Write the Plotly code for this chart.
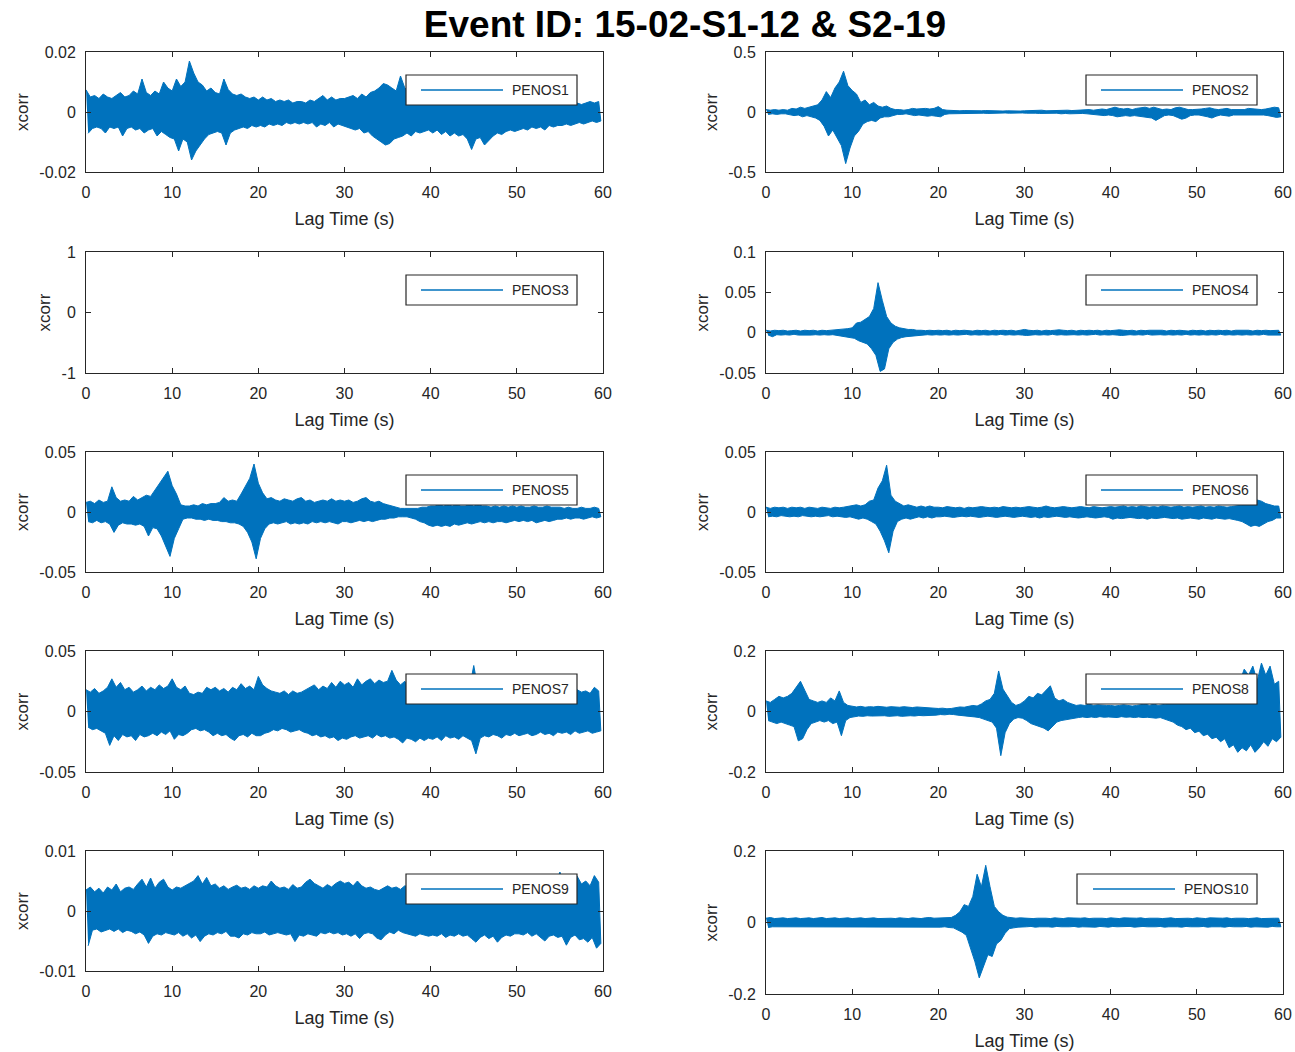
import plotly.graph_objects as go

# ---------------- data ----------------
# Each trace is stored as a pair of envelopes sampled every 0.5 s:
#   *_UP = local maximum in the half-second starting at LAG_TIME_S[k]
#   *_LO = local minimum in the same half-second (drawn a quarter second later)
LAG_TIME_S = [k * 0.5 for k in range(120)]

NAMES = ["PENOS1", "PENOS2", "PENOS3", "PENOS4", "PENOS5",
         "PENOS6", "PENOS7", "PENOS8", "PENOS9", "PENOS10"]

PENOS1_UP = [
    0.0074, 0.005, 0.0055, 0.0045, 0.006, 0.005, 0.0045, 0.0055, 0.0065, 0.005,
    0.0055, 0.007, 0.006, 0.011, 0.0065, 0.0055, 0.007, 0.006, 0.01, 0.008,
    0.007, 0.011, 0.0085, 0.01, 0.017, 0.013, 0.01, 0.009, 0.007, 0.008,
    0.0065, 0.006, 0.011, 0.0075, 0.006, 0.0055, 0.006, 0.005, 0.0045, 0.005,
    0.004, 0.005, 0.004, 0.0045, 0.0035, 0.004, 0.0035, 0.004, 0.003, 0.0035,
    0.0035, 0.003, 0.004, 0.0035, 0.0045, 0.0055, 0.004, 0.005, 0.004, 0.0045,
    0.0045, 0.005, 0.0055, 0.0045, 0.006, 0.005, 0.0065, 0.007, 0.008, 0.0095,
    0.009, 0.008, 0.007, 0.012, 0.008, 0.007, 0.0075, 0.0065, 0.007, 0.006,
    0.0065, 0.006, 0.007, 0.006, 0.0065, 0.007, 0.006, 0.0065, 0.007, 0.006,
    0.0065, 0.007, 0.006, 0.0065, 0.0055, 0.006, 0.005, 0.0055, 0.005, 0.0045,
    0.005, 0.0045, 0.004, 0.005, 0.0045, 0.004, 0.0045, 0.004, 0.0045, 0.004,
    0.0035, 0.003, 0.0035, 0.003, 0.003, 0.0025, 0.003, 0.0035, 0.003, 0.0035]
PENOS1_LO = [
    -0.0071, -0.0055, -0.005, -0.0055, -0.007, -0.005, -0.0055, -0.005, -0.008, -0.0055,
    -0.005, -0.006, -0.0055, -0.007, -0.006, -0.0055, -0.008, -0.0065, -0.0075, -0.0085,
    -0.009, -0.013, -0.009, -0.01, -0.016, -0.013, -0.011, -0.009, -0.0075, -0.007,
    -0.0065, -0.007, -0.011, -0.007, -0.006, -0.0055, -0.005, -0.0055, -0.0045, -0.005,
    -0.0045, -0.005, -0.004, -0.0045, -0.004, -0.0045, -0.0035, -0.004, -0.0035, -0.004,
    -0.0035, -0.004, -0.0035, -0.005, -0.004, -0.0045, -0.0035, -0.005, -0.004, -0.0045,
    -0.005, -0.0055, -0.006, -0.0055, -0.007, -0.0065, -0.008, -0.009, -0.01, -0.011,
    -0.0105, -0.009, -0.0085, -0.008, -0.007, -0.008, -0.0065, -0.007, -0.0065, -0.006,
    -0.007, -0.006, -0.0075, -0.0065, -0.008, -0.007, -0.008, -0.0075, -0.009, -0.0125,
    -0.009, -0.0085, -0.011, -0.0095, -0.008, -0.007, -0.0075, -0.0065, -0.006, -0.0065,
    -0.006, -0.0055, -0.006, -0.005, -0.0055, -0.005, -0.006, -0.0045, -0.005, -0.0045,
    -0.0045, -0.004, -0.0045, -0.004, -0.0035, -0.004, -0.0035, -0.003, -0.0035, -0.003]

PENOS2_UP = [
    0.02, 0.015, 0.02, 0.015, 0.02, 0.015, 0.03, 0.025, 0.04, 0.03,
    0.04, 0.05, 0.06, 0.1, 0.17, 0.12, 0.2, 0.25, 0.34, 0.22,
    0.18, 0.15, 0.08, 0.1, 0.06, 0.08, 0.05, 0.04, 0.05, 0.03,
    0.02, 0.02, 0.015, 0.02, 0.03, 0.025, 0.03, 0.03, 0.025, 0.03,
    0.045, 0.02, 0.015, 0.012, 0.015, 0.01, 0.012, 0.01, 0.012, 0.01,
    0.01, 0.012, 0.01, 0.008, 0.01, 0.008, 0.01, 0.008, 0.01, 0.008,
    0.01, 0.012, 0.01, 0.012, 0.015, 0.01, 0.012, 0.01, 0.015, 0.012,
    0.015, 0.012, 0.015, 0.012, 0.015, 0.02, 0.015, 0.02, 0.025, 0.02,
    0.03, 0.04, 0.03, 0.025, 0.03, 0.02, 0.03, 0.035, 0.04, 0.03,
    0.04, 0.03, 0.02, 0.025, 0.02, 0.035, 0.04, 0.03, 0.02, 0.02,
    0.02, 0.025, 0.03, 0.035, 0.025, 0.02, 0.025, 0.03, 0.02, 0.02,
    0.025, 0.02, 0.03, 0.025, 0.02, 0.02, 0.025, 0.03, 0.04, 0.035]
PENOS2_LO = [
    -0.02, -0.015, -0.02, -0.015, -0.015, -0.02, -0.03, -0.025, -0.04, -0.03,
    -0.04, -0.05, -0.07, -0.12, -0.2, -0.15, -0.22, -0.28, -0.43, -0.3,
    -0.2, -0.16, -0.1, -0.08, -0.07, -0.08, -0.05, -0.04, -0.04, -0.03,
    -0.02, -0.02, -0.015, -0.02, -0.03, -0.025, -0.03, -0.035, -0.03, -0.035,
    -0.04, -0.02, -0.015, -0.012, -0.015, -0.01, -0.012, -0.01, -0.012, -0.01,
    -0.01, -0.012, -0.01, -0.008, -0.01, -0.008, -0.01, -0.008, -0.01, -0.008,
    -0.01, -0.012, -0.01, -0.012, -0.015, -0.01, -0.012, -0.01, -0.015, -0.012,
    -0.015, -0.012, -0.015, -0.012, -0.015, -0.02, -0.02, -0.025, -0.03, -0.025,
    -0.03, -0.04, -0.035, -0.03, -0.035, -0.03, -0.035, -0.04, -0.045, -0.05,
    -0.07, -0.05, -0.03, -0.025, -0.03, -0.045, -0.06, -0.05, -0.03, -0.025,
    -0.025, -0.03, -0.04, -0.05, -0.035, -0.025, -0.03, -0.035, -0.025, -0.025,
    -0.03, -0.025, -0.03, -0.03, -0.025, -0.025, -0.03, -0.035, -0.045, -0.04]

# PENOS3 has no samples in the reference (empty axes)
PENOS3_UP = []
PENOS3_LO = []

PENOS4_UP = [
    0.003, 0.002, 0.003, 0.0025, 0.003, 0.002, 0.0025, 0.003, 0.002, 0.003,
    0.0025, 0.003, 0.002, 0.003, 0.0025, 0.003, 0.003, 0.004, 0.004, 0.005,
    0.006, 0.012, 0.013, 0.016, 0.02, 0.03, 0.062, 0.04, 0.02, 0.012,
    0.008, 0.006, 0.005, 0.004, 0.004, 0.003, 0.003, 0.0025, 0.003, 0.0025,
    0.003, 0.0025, 0.003, 0.002, 0.003, 0.0025, 0.003, 0.0025, 0.002, 0.003,
    0.0025, 0.003, 0.002, 0.003, 0.0025, 0.003, 0.0025, 0.003, 0.002, 0.003,
    0.004, 0.003, 0.0025, 0.003, 0.002, 0.003, 0.0025, 0.003, 0.0035, 0.003,
    0.0025, 0.003, 0.002, 0.003, 0.0025, 0.003, 0.0025, 0.003, 0.002, 0.003,
    0.0025, 0.003, 0.0035, 0.003, 0.0025, 0.003, 0.002, 0.003, 0.0025, 0.003,
    0.003, 0.0025, 0.003, 0.002, 0.003, 0.0025, 0.003, 0.0025, 0.002, 0.003,
    0.0025, 0.003, 0.002, 0.003, 0.0025, 0.003, 0.0025, 0.003, 0.002, 0.003,
    0.003, 0.0025, 0.003, 0.002, 0.003, 0.0025, 0.003, 0.0025, 0.003, 0.003]
PENOS4_LO = [
    -0.003, -0.005, -0.0025, -0.003, -0.0025, -0.003, -0.002, -0.003, -0.0025, -0.003,
    -0.003, -0.0025, -0.003, -0.0025, -0.003, -0.0025, -0.003, -0.004, -0.005, -0.006,
    -0.007, -0.01, -0.012, -0.014, -0.02, -0.028, -0.048, -0.045, -0.02, -0.012,
    -0.008, -0.006, -0.005, -0.004, -0.004, -0.003, -0.003, -0.0025, -0.003, -0.0025,
    -0.003, -0.0025, -0.003, -0.0025, -0.003, -0.0025, -0.002, -0.003, -0.0025, -0.003,
    -0.0025, -0.003, -0.0025, -0.003, -0.002, -0.003, -0.0025, -0.003, -0.0025, -0.003,
    -0.0035, -0.003, -0.0025, -0.003, -0.0025, -0.003, -0.002, -0.003, -0.0025, -0.003,
    -0.003, -0.0025, -0.003, -0.0025, -0.003, -0.0025, -0.002, -0.003, -0.0025, -0.003,
    -0.0025, -0.003, -0.0035, -0.003, -0.0025, -0.003, -0.0025, -0.003, -0.002, -0.003,
    -0.003, -0.0025, -0.003, -0.0025, -0.003, -0.0025, -0.003, -0.002, -0.003, -0.0025,
    -0.003, -0.0025, -0.003, -0.0025, -0.003, -0.002, -0.003, -0.0025, -0.003, -0.0025,
    -0.003, -0.0025, -0.003, -0.0025, -0.003, -0.002, -0.003, -0.0025, -0.003, -0.003]

PENOS5_UP = [
    0.008, 0.009, 0.007, 0.01, 0.008, 0.009, 0.021, 0.012, 0.009, 0.01,
    0.009, 0.013, 0.01, 0.012, 0.014, 0.013, 0.018, 0.024, 0.028, 0.034,
    0.022, 0.015, 0.006, 0.005, 0.005, 0.006, 0.005, 0.007, 0.006, 0.007,
    0.007, 0.008, 0.012, 0.009, 0.01, 0.009, 0.015, 0.021, 0.028, 0.04,
    0.024, 0.016, 0.011, 0.012, 0.01, 0.009, 0.011, 0.01, 0.009, 0.011,
    0.012, 0.009, 0.01, 0.008, 0.009, 0.01, 0.009, 0.011, 0.009, 0.01,
    0.009, 0.01, 0.008, 0.009, 0.011, 0.012, 0.009, 0.008, 0.009, 0.007,
    0.006, 0.005, 0.004, 0.003, 0.003, 0.003, 0.0035, 0.003, 0.004, 0.004,
    0.005, 0.005, 0.006, 0.005, 0.006, 0.005, 0.006, 0.005, 0.005, 0.006,
    0.005, 0.006, 0.005, 0.005, 0.004, 0.005, 0.004, 0.005, 0.004, 0.005,
    0.004, 0.005, 0.004, 0.004, 0.005, 0.004, 0.004, 0.005, 0.004, 0.004,
    0.004, 0.003, 0.004, 0.003, 0.003, 0.004, 0.003, 0.003, 0.004, 0.003]
PENOS5_LO = [
    -0.008, -0.009, -0.007, -0.009, -0.008, -0.01, -0.017, -0.011, -0.009, -0.01,
    -0.01, -0.011, -0.01, -0.012, -0.02, -0.013, -0.014, -0.02, -0.028, -0.037,
    -0.022, -0.014, -0.006, -0.005, -0.005, -0.006, -0.006, -0.007, -0.006, -0.007,
    -0.007, -0.008, -0.008, -0.009, -0.009, -0.01, -0.012, -0.017, -0.025, -0.039,
    -0.022, -0.014, -0.01, -0.009, -0.01, -0.009, -0.008, -0.01, -0.009, -0.01,
    -0.009, -0.01, -0.008, -0.009, -0.008, -0.009, -0.008, -0.009, -0.01, -0.008,
    -0.008, -0.009, -0.008, -0.007, -0.008, -0.007, -0.008, -0.007, -0.006, -0.006,
    -0.005, -0.005, -0.004, -0.004, -0.004, -0.005, -0.006, -0.008, -0.009, -0.011,
    -0.012, -0.011, -0.012, -0.011, -0.012, -0.01, -0.011, -0.01, -0.009, -0.01,
    -0.009, -0.008, -0.009, -0.008, -0.009, -0.008, -0.008, -0.009, -0.008, -0.007,
    -0.008, -0.007, -0.008, -0.007, -0.009, -0.008, -0.007, -0.008, -0.007, -0.006,
    -0.006, -0.005, -0.006, -0.005, -0.005, -0.006, -0.005, -0.004, -0.005, -0.004]

PENOS6_UP = [
    0.004, 0.003, 0.004, 0.0035, 0.004, 0.003, 0.004, 0.0035, 0.004, 0.003,
    0.004, 0.0035, 0.003, 0.004, 0.0035, 0.003, 0.004, 0.0035, 0.004, 0.0045,
    0.005, 0.006, 0.005, 0.006, 0.009, 0.01, 0.02, 0.026, 0.039, 0.014,
    0.009, 0.007, 0.005, 0.006, 0.005, 0.004, 0.005, 0.004, 0.005, 0.004,
    0.004, 0.0035, 0.0045, 0.004, 0.0035, 0.004, 0.003, 0.004, 0.0035, 0.004,
    0.0045, 0.004, 0.0035, 0.004, 0.0035, 0.0045, 0.004, 0.0035, 0.004, 0.0035,
    0.004, 0.0045, 0.004, 0.0035, 0.004, 0.005, 0.004, 0.0035, 0.004, 0.0045,
    0.004, 0.0035, 0.004, 0.0045, 0.004, 0.0035, 0.0045, 0.004, 0.0035, 0.004,
    0.0045, 0.004, 0.0045, 0.005, 0.004, 0.0045, 0.004, 0.005, 0.0045, 0.004,
    0.0045, 0.004, 0.005, 0.0045, 0.004, 0.0045, 0.005, 0.004, 0.0045, 0.004,
    0.0045, 0.005, 0.004, 0.0045, 0.004, 0.005, 0.0045, 0.004, 0.0045, 0.005,
    0.005, 0.006, 0.007, 0.008, 0.01, 0.009, 0.007, 0.006, 0.005, 0.005]
PENOS6_LO = [
    -0.004, -0.0035, -0.004, -0.003, -0.0035, -0.004, -0.0035, -0.004, -0.003, -0.0035,
    -0.004, -0.0035, -0.004, -0.0035, -0.003, -0.004, -0.0035, -0.004, -0.0045, -0.004,
    -0.005, -0.006, -0.005, -0.006, -0.008, -0.01, -0.016, -0.024, -0.034, -0.016,
    -0.008, -0.006, -0.005, -0.006, -0.005, -0.004, -0.005, -0.004, -0.005, -0.004,
    -0.004, -0.0035, -0.004, -0.0045, -0.004, -0.0035, -0.004, -0.0035, -0.004, -0.0045,
    -0.004, -0.0035, -0.004, -0.0045, -0.004, -0.0035, -0.004, -0.0045, -0.004, -0.0035,
    -0.004, -0.0045, -0.004, -0.005, -0.004, -0.0045, -0.004, -0.0035, -0.004, -0.0045,
    -0.004, -0.0045, -0.005, -0.0045, -0.004, -0.0045, -0.005, -0.0045, -0.004, -0.0045,
    -0.006, -0.005, -0.0055, -0.005, -0.0045, -0.005, -0.0055, -0.005, -0.006, -0.005,
    -0.0055, -0.005, -0.0045, -0.005, -0.0055, -0.005, -0.006, -0.0055, -0.005, -0.0055,
    -0.006, -0.005, -0.0055, -0.006, -0.005, -0.0055, -0.006, -0.0055, -0.006, -0.007,
    -0.008, -0.01, -0.012, -0.011, -0.012, -0.01, -0.008, -0.007, -0.005, -0.005]

PENOS7_UP = [
    0.018, 0.016, 0.019, 0.015, 0.017, 0.02, 0.027, 0.02, 0.024, 0.018,
    0.02, 0.016, 0.018, 0.021, 0.017, 0.02, 0.018, 0.022, 0.019, 0.021,
    0.027, 0.02, 0.018, 0.021, 0.015, 0.014, 0.016, 0.015, 0.02, 0.018,
    0.02, 0.017, 0.019, 0.016, 0.02, 0.018, 0.023, 0.019, 0.021, 0.018,
    0.029, 0.022, 0.019, 0.017, 0.016, 0.015, 0.017, 0.014, 0.017, 0.015,
    0.016, 0.018, 0.02, 0.022, 0.018, 0.021, 0.019, 0.024, 0.02, 0.025,
    0.022, 0.024, 0.02, 0.027, 0.022, 0.025, 0.027, 0.023, 0.026, 0.024,
    0.025, 0.034, 0.026, 0.022, 0.025, 0.02, 0.022, 0.019, 0.02, 0.018,
    0.02, 0.018, 0.019, 0.017, 0.02, 0.018, 0.019, 0.017, 0.02, 0.019,
    0.038, 0.018, 0.017, 0.019, 0.016, 0.018, 0.017, 0.015, 0.016, 0.017,
    0.016, 0.015, 0.017, 0.016, 0.015, 0.017, 0.016, 0.015, 0.016, 0.017,
    0.015, 0.016, 0.017, 0.015, 0.018, 0.016, 0.017, 0.015, 0.02, 0.017]
PENOS7_LO = [
    -0.013, -0.015, -0.014, -0.016, -0.018, -0.028, -0.02, -0.024, -0.019, -0.021,
    -0.02, -0.024, -0.019, -0.021, -0.02, -0.018, -0.02, -0.017, -0.019, -0.016,
    -0.023, -0.019, -0.02, -0.018, -0.015, -0.014, -0.016, -0.015, -0.017, -0.02,
    -0.018, -0.02, -0.019, -0.022, -0.024, -0.02, -0.019, -0.021, -0.018, -0.02,
    -0.02, -0.018, -0.017, -0.015, -0.016, -0.014, -0.015, -0.017, -0.016, -0.015,
    -0.017, -0.018, -0.02, -0.019, -0.021, -0.02, -0.022, -0.021, -0.024, -0.022,
    -0.023, -0.021, -0.02, -0.022, -0.021, -0.02, -0.022, -0.019, -0.021, -0.02,
    -0.022, -0.021, -0.023, -0.026, -0.022, -0.023, -0.025, -0.022, -0.024, -0.022,
    -0.023, -0.021, -0.024, -0.02, -0.022, -0.021, -0.023, -0.02, -0.022, -0.024,
    -0.035, -0.022, -0.02, -0.021, -0.019, -0.02, -0.022, -0.019, -0.02, -0.018,
    -0.02, -0.019, -0.018, -0.02, -0.019, -0.017, -0.019, -0.018, -0.02, -0.017,
    -0.018, -0.017, -0.019, -0.016, -0.018, -0.017, -0.016, -0.018, -0.017, -0.016]

PENOS8_UP = [
    0.035, 0.03, 0.04, 0.05, 0.045, 0.05, 0.06, 0.08, 0.1, 0.07,
    0.04, 0.035, 0.03, 0.035, 0.03, 0.045, 0.035, 0.068, 0.03, 0.02,
    0.018, 0.015, 0.017, 0.014, 0.016, 0.015, 0.017, 0.015, 0.014, 0.016,
    0.015, 0.014, 0.016, 0.015, 0.013, 0.015, 0.014, 0.012, 0.013, 0.012,
    0.01, 0.011, 0.009, 0.01, 0.012, 0.015, 0.014, 0.017, 0.02, 0.018,
    0.025, 0.035, 0.04, 0.06, 0.134, 0.074, 0.05, 0.03, 0.02, 0.025,
    0.035, 0.05, 0.045, 0.06, 0.055, 0.07, 0.085, 0.045, 0.035, 0.04,
    0.03, 0.025, 0.02, 0.022, 0.02, 0.025, 0.02, 0.022, 0.02, 0.02,
    0.02, 0.018, 0.02, 0.022, 0.02, 0.018, 0.02, 0.022, 0.025, 0.02,
    0.025, 0.02, 0.022, 0.025, 0.03, 0.035, 0.04, 0.05, 0.045, 0.05,
    0.06, 0.055, 0.07, 0.065, 0.08, 0.07, 0.09, 0.08, 0.1, 0.09,
    0.1, 0.14, 0.12, 0.15, 0.1, 0.16, 0.12, 0.15, 0.09, 0.1]
PENOS8_LO = [
    -0.03, -0.035, -0.04, -0.035, -0.04, -0.045, -0.05, -0.097, -0.09, -0.06,
    -0.04, -0.035, -0.03, -0.035, -0.03, -0.04, -0.035, -0.08, -0.03, -0.02,
    -0.018, -0.015, -0.016, -0.014, -0.015, -0.016, -0.015, -0.014, -0.016, -0.015,
    -0.014, -0.016, -0.015, -0.014, -0.015, -0.013, -0.014, -0.012, -0.013, -0.012,
    -0.01, -0.011, -0.009, -0.01, -0.012, -0.014, -0.015, -0.017, -0.018, -0.02,
    -0.025, -0.03, -0.035, -0.055, -0.146, -0.07, -0.04, -0.025, -0.02, -0.022,
    -0.03, -0.04, -0.045, -0.05, -0.055, -0.064, -0.05, -0.035, -0.03, -0.028,
    -0.025, -0.022, -0.02, -0.018, -0.02, -0.018, -0.02, -0.017, -0.019, -0.018,
    -0.018, -0.02, -0.017, -0.019, -0.018, -0.02, -0.018, -0.02, -0.019, -0.02,
    -0.022, -0.02, -0.025, -0.03, -0.035, -0.045, -0.05, -0.06, -0.055, -0.07,
    -0.065, -0.08, -0.075, -0.09, -0.085, -0.1, -0.09, -0.12, -0.11, -0.135,
    -0.12, -0.13, -0.11, -0.135, -0.12, -0.1, -0.115, -0.09, -0.1, -0.085]

PENOS9_UP = [
    0.0035, 0.004, 0.0032, 0.0038, 0.003, 0.004, 0.0035, 0.0045, 0.0032, 0.0038,
    0.004, 0.0036, 0.0045, 0.0053, 0.004, 0.0055, 0.0038, 0.0048, 0.0053, 0.004,
    0.0035, 0.004, 0.0038, 0.0042, 0.0045, 0.005, 0.0059, 0.0045, 0.0056, 0.0042,
    0.0045, 0.0038, 0.0042, 0.0036, 0.004, 0.0043, 0.0038, 0.004, 0.0036, 0.0042,
    0.0038, 0.0042, 0.004, 0.005, 0.0042, 0.0038, 0.004, 0.0036, 0.0044, 0.0038,
    0.004, 0.0048, 0.0053, 0.0046, 0.0042, 0.0038, 0.0044, 0.004, 0.0046, 0.005,
    0.0046, 0.0048, 0.0042, 0.005, 0.0042, 0.0038, 0.004, 0.0036, 0.0034, 0.0038,
    0.0042, 0.0038, 0.004, 0.0036, 0.0042, 0.004, 0.0038, 0.0042, 0.004, 0.0038,
    0.004, 0.0038, 0.0042, 0.004, 0.0038, 0.0042, 0.004, 0.0038, 0.006, 0.004,
    0.0042, 0.004, 0.0038, 0.0042, 0.004, 0.0038, 0.0042, 0.004, 0.0038, 0.004,
    0.0042, 0.004, 0.0038, 0.0042, 0.004, 0.0038, 0.0042, 0.004, 0.0038, 0.0045,
    0.0065, 0.004, 0.0045, 0.0042, 0.0058, 0.0045, 0.005, 0.0042, 0.0059, 0.0048]
PENOS9_LO = [
    -0.0058, -0.0032, -0.003, -0.0035, -0.0032, -0.003, -0.0034, -0.003, -0.0036, -0.0032,
    -0.0034, -0.0038, -0.0035, -0.004, -0.0054, -0.0042, -0.0038, -0.004, -0.0036, -0.0038,
    -0.004, -0.0036, -0.0042, -0.0038, -0.0045, -0.004, -0.0051, -0.0042, -0.0038, -0.004,
    -0.0036, -0.0038, -0.0034, -0.0042, -0.0042, -0.0045, -0.0038, -0.004, -0.0036, -0.0038,
    -0.0038, -0.0035, -0.004, -0.0038, -0.0036, -0.0038, -0.004, -0.0038, -0.0051, -0.004,
    -0.0042, -0.0038, -0.004, -0.0042, -0.0036, -0.0038, -0.0035, -0.0038, -0.0036, -0.004,
    -0.0038, -0.0042, -0.0038, -0.0046, -0.0038, -0.0036, -0.0038, -0.0045, -0.0048, -0.004,
    -0.0035, -0.0038, -0.0032, -0.0036, -0.0038, -0.004, -0.0042, -0.0038, -0.004, -0.0042,
    -0.004, -0.0042, -0.0038, -0.0044, -0.004, -0.0042, -0.0038, -0.0042, -0.004, -0.0046,
    -0.0052, -0.0044, -0.004, -0.0046, -0.0042, -0.0052, -0.0044, -0.004, -0.0042, -0.0038,
    -0.0038, -0.004, -0.0036, -0.0042, -0.0038, -0.0044, -0.005, -0.0042, -0.004, -0.0044,
    -0.0042, -0.0057, -0.0044, -0.004, -0.0048, -0.0046, -0.0052, -0.0044, -0.0062, -0.0054]

PENOS10_UP = [
    0.012, 0.014, 0.011, 0.012, 0.013, 0.011, 0.012, 0.013, 0.011, 0.012,
    0.013, 0.011, 0.012, 0.014, 0.011, 0.012, 0.013, 0.011, 0.012, 0.013,
    0.011, 0.012, 0.013, 0.011, 0.012, 0.013, 0.011, 0.012, 0.013, 0.012,
    0.011, 0.013, 0.012, 0.011, 0.013, 0.012, 0.011, 0.013, 0.014, 0.012,
    0.013, 0.012, 0.015, 0.014, 0.02, 0.03, 0.05, 0.045, 0.073, 0.135,
    0.1, 0.16, 0.1, 0.045, 0.03, 0.02, 0.015, 0.013, 0.012, 0.013,
    0.012, 0.013, 0.011, 0.012, 0.013, 0.012, 0.011, 0.013, 0.012, 0.011,
    0.013, 0.012, 0.011, 0.012, 0.013, 0.011, 0.012, 0.013, 0.012, 0.011,
    0.013, 0.012, 0.011, 0.013, 0.012, 0.011, 0.012, 0.013, 0.011, 0.012,
    0.013, 0.012, 0.011, 0.012, 0.013, 0.011, 0.012, 0.013, 0.012, 0.011,
    0.013, 0.012, 0.011, 0.013, 0.012, 0.011, 0.012, 0.013, 0.011, 0.012,
    0.013, 0.012, 0.011, 0.012, 0.013, 0.011, 0.012, 0.013, 0.012, 0.012]
PENOS10_LO = [
    -0.014, -0.012, -0.011, -0.013, -0.012, -0.011, -0.013, -0.012, -0.011, -0.012,
    -0.013, -0.011, -0.012, -0.013, -0.011, -0.012, -0.013, -0.012, -0.011, -0.013,
    -0.012, -0.011, -0.013, -0.012, -0.011, -0.012, -0.013, -0.011, -0.012, -0.013,
    -0.012, -0.011, -0.013, -0.012, -0.011, -0.012, -0.013, -0.011, -0.012, -0.013,
    -0.013, -0.012, -0.014, -0.015, -0.02, -0.027, -0.036, -0.07, -0.11, -0.155,
    -0.12, -0.09, -0.095, -0.06, -0.05, -0.03, -0.017, -0.015, -0.013, -0.012,
    -0.012, -0.011, -0.013, -0.012, -0.011, -0.012, -0.013, -0.011, -0.012, -0.013,
    -0.012, -0.011, -0.013, -0.012, -0.011, -0.012, -0.013, -0.011, -0.012, -0.013,
    -0.011, -0.012, -0.013, -0.012, -0.011, -0.013, -0.012, -0.011, -0.012, -0.013,
    -0.012, -0.011, -0.013, -0.012, -0.011, -0.012, -0.013, -0.011, -0.012, -0.013,
    -0.012, -0.011, -0.013, -0.012, -0.011, -0.012, -0.013, -0.011, -0.012, -0.013,
    -0.012, -0.011, -0.013, -0.012, -0.011, -0.012, -0.013, -0.011, -0.012, -0.012]

ENVELOPES = {
    "PENOS1": (PENOS1_UP, PENOS1_LO), "PENOS2": (PENOS2_UP, PENOS2_LO),
    "PENOS3": (PENOS3_UP, PENOS3_LO), "PENOS4": (PENOS4_UP, PENOS4_LO),
    "PENOS5": (PENOS5_UP, PENOS5_LO), "PENOS6": (PENOS6_UP, PENOS6_LO),
    "PENOS7": (PENOS7_UP, PENOS7_LO), "PENOS8": (PENOS8_UP, PENOS8_LO),
    "PENOS9": (PENOS9_UP, PENOS9_LO), "PENOS10": (PENOS10_UP, PENOS10_LO),
}

# y-axis ranges and tick labels of each panel
Y_RANGES = [(-0.02, 0.02), (-0.5, 0.5), (-1, 1), (-0.05, 0.1), (-0.05, 0.05),
            (-0.05, 0.05), (-0.05, 0.05), (-0.2, 0.2), (-0.01, 0.01), (-0.2, 0.2)]
Y_TICKS = [[-0.02, 0, 0.02], [-0.5, 0, 0.5], [-1, 0, 1], [-0.05, 0, 0.05, 0.1],
           [-0.05, 0, 0.05], [-0.05, 0, 0.05], [-0.05, 0, 0.05], [-0.2, 0, 0.2],
           [-0.01, 0, 0.01], [-0.2, 0, 0.2]]
Y_TICKTEXT = [["-0.02", "0", "0.02"], ["-0.5", "0", "0.5"], ["-1", "0", "1"],
              ["-0.05", "0", "0.05", "0.1"], ["-0.05", "0", "0.05"], ["-0.05", "0", "0.05"],
              ["-0.05", "0", "0.05"], ["-0.2", "0", "0.2"], ["-0.01", "0", "0.01"],
              ["-0.2", "0", "0.2"]]
X_TICKS = [0, 10, 20, 30, 40, 50, 60]
TITLE = "Event ID: 15-02-S1-12 & S2-19"

# ---------------- layout (pixel geometry) ----------------
W, H = 1295, 1052
COLS = [(86, 603), (766, 1283)]
ROWS = [(52, 172), (252, 373), (452, 572), (651, 772), (851, 971)]
ROW5_RIGHT = (851, 994)

LINE_COLOR = "#0072BD"
AX_COLOR = "#262626"
FONT = "Liberation Sans, Arial, Helvetica, sans-serif"

fig = go.Figure()
shapes, annotations = [], []
layout_axes = {}

for i, name in enumerate(NAMES):
    row, col = divmod(i, 2)
    x0px, x1px = COLS[col]
    top, bot = ROW5_RIGHT if (row == 4 and col == 1) else ROWS[row]
    n = i + 1
    xa = "xaxis" if n == 1 else f"xaxis{n}"
    ya = "yaxis" if n == 1 else f"yaxis{n}"
    xr = "x" if n == 1 else f"x{n}"
    yr = "y" if n == 1 else f"y{n}"

    up, lo = ENVELOPES[name]
    k = len(up)
    # dense trace drawn as its closed envelope: maxima forward, minima backward
    xs = LAG_TIME_S[:k] + [t + 0.25 for t in reversed(LAG_TIME_S[:k])]
    ys = list(up) + list(reversed(lo))
    fig.add_trace(go.Scatter(x=xs, y=ys, mode="lines", name=name,
                             fill="toself", fillcolor=LINE_COLOR,
                             line=dict(color=LINE_COLOR, width=1),
                             xaxis=xr, yaxis=yr, showlegend=False,
                             hoverinfo="skip"))

    common = dict(showline=True, linecolor=AX_COLOR, linewidth=1, mirror="ticks",
                  ticks="inside", ticklen=5, tickcolor=AX_COLOR, showgrid=False,
                  zeroline=False, automargin=False,
                  tickfont=dict(family=FONT, size=16, color=AX_COLOR))
    layout_axes[xa] = dict(common, domain=[x0px / W, x1px / W], anchor=yr,
                           range=[0, 60], tickvals=X_TICKS, ticklabelstandoff=6,
                           title=dict(text="Lag Time (s)", standoff=12,
                                      font=dict(family=FONT, size=18, color=AX_COLOR)))
    layout_axes[ya] = dict(common, domain=[1 - bot / H, 1 - top / H], anchor=xr,
                           range=list(Y_RANGES[i]), tickvals=Y_TICKS[i],
                           ticktext=Y_TICKTEXT[i], ticklabelstandoff=6,
                           title=dict(text="xcorr", standoff=6,
                                      font=dict(family=FONT, size=17, color=AX_COLOR)))

    # MATLAB-style legend box (north-east)
    bw = 180 if name == "PENOS10" else 171
    bx1 = x1px - 26
    bx0 = bx1 - bw
    by0 = top + 23
    by1 = by0 + 30
    shapes.append(dict(type="rect", xref="paper", yref="paper",
                       x0=bx0 / W, x1=bx1 / W, y0=1 - by1 / H, y1=1 - by0 / H,
                       fillcolor="white", line=dict(color=AX_COLOR, width=1.2),
                       layer="above"))
    ym = (by0 + by1) / 2
    lx0 = bx0 + (16 if name == "PENOS10" else 15)
    shapes.append(dict(type="line", xref="paper", yref="paper",
                       x0=lx0 / W, x1=(lx0 + 82) / W, y0=1 - ym / H, y1=1 - ym / H,
                       line=dict(color=LINE_COLOR, width=1.5), layer="above"))
    annotations.append(dict(text=name, xref="paper", yref="paper",
                            x=(lx0 + 89) / W, y=1 - ym / H, xanchor="left",
                            yanchor="middle", showarrow=False,
                            font=dict(family=FONT, size=14, color=AX_COLOR)))

fig.update_layout(
    width=W, height=H,
    margin=dict(l=0, r=0, t=0, b=0, autoexpand=False),
    paper_bgcolor="white", plot_bgcolor="white",
    title=dict(text=TITLE, x=685 / W, xanchor="center", y=1 - 24 / H,
               yanchor="middle", yref="container", automargin=False,
               font=dict(family=FONT, size=37, color="black", weight="bold")),
    shapes=shapes, annotations=annotations,
    showlegend=False,
    **layout_axes,
)

# remove the browser's default 8px body margin so the figure sits at (0, 0)
fig.write_html("out.html", config={"displayModeBar": False},
               post_script="document.body.style.margin='0px';")
